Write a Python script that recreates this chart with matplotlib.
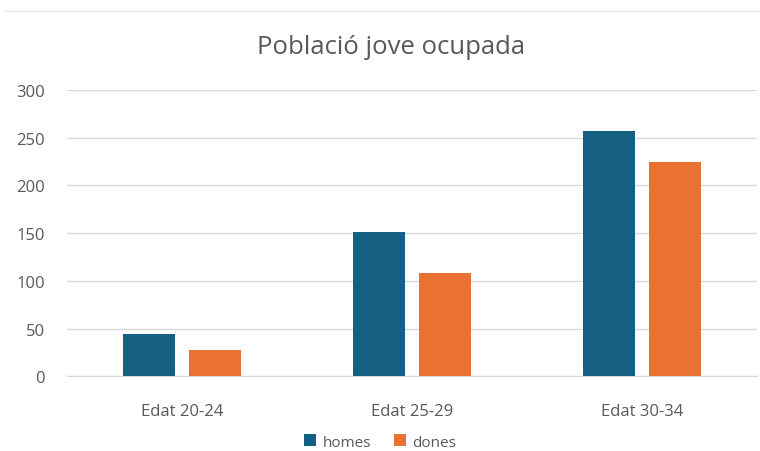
import matplotlib.pyplot as plt
import numpy as np
from matplotlib.lines import Line2D

categories = ['Edat 20-24', 'Edat 25-29', 'Edat 30-34']
homes = [44, 151, 257]
dones = [28, 108, 224]
series_names = ['homes', 'dones']

plt.rcParams['font.family'] = ['Open Sans', 'DejaVu Sans']
text_color = '#595959'

fig = plt.figure(figsize=(7.6, 4.52), dpi=100)
ax = fig.add_axes([0.088, 0.165, 0.908, 0.634])

x = np.arange(len(categories))
w = 0.226
ax.bar(x - 0.143, homes, w, color='#156082', label=series_names[0], zorder=3)
ax.bar(x + 0.143, dones, w, color='#e97132', label=series_names[1], zorder=3)

ax.set_xlim(-0.5, 2.5)
ax.set_ylim(0, 300)
ax.set_yticks(range(0, 301, 50))
ax.set_xticks(x)
ax.set_xticklabels(categories)
ax.grid(axis='y', color='#d9d9d9', linewidth=1, zorder=0)
ax.tick_params(length=0, colors=text_color, labelsize=12)
ax.tick_params(axis='x', pad=19)
ax.tick_params(axis='y', pad=16)
for s in ['top', 'right', 'left']:
    ax.spines[s].set_visible(False)
ax.spines['bottom'].set_color('#d9d9d9')

fig.text(0.515, 0.894, 'Població jove ocupada', ha='center', va='center',
         fontsize=18.5, color=text_color)

fig.legend(loc='center', bbox_to_anchor=(0.5, 0.02), ncol=2, frameon=False,
           fontsize=11, labelcolor=text_color, handlelength=0.8,
           handleheight=0.8, handletextpad=0.4, columnspacing=1.5,
           borderpad=0.1)

fig.add_artist(Line2D([0.005, 1.0], [0.973, 0.973], color='#e6e6e6', linewidth=1))

fig.savefig('out.png', dpi=100, facecolor='white')
